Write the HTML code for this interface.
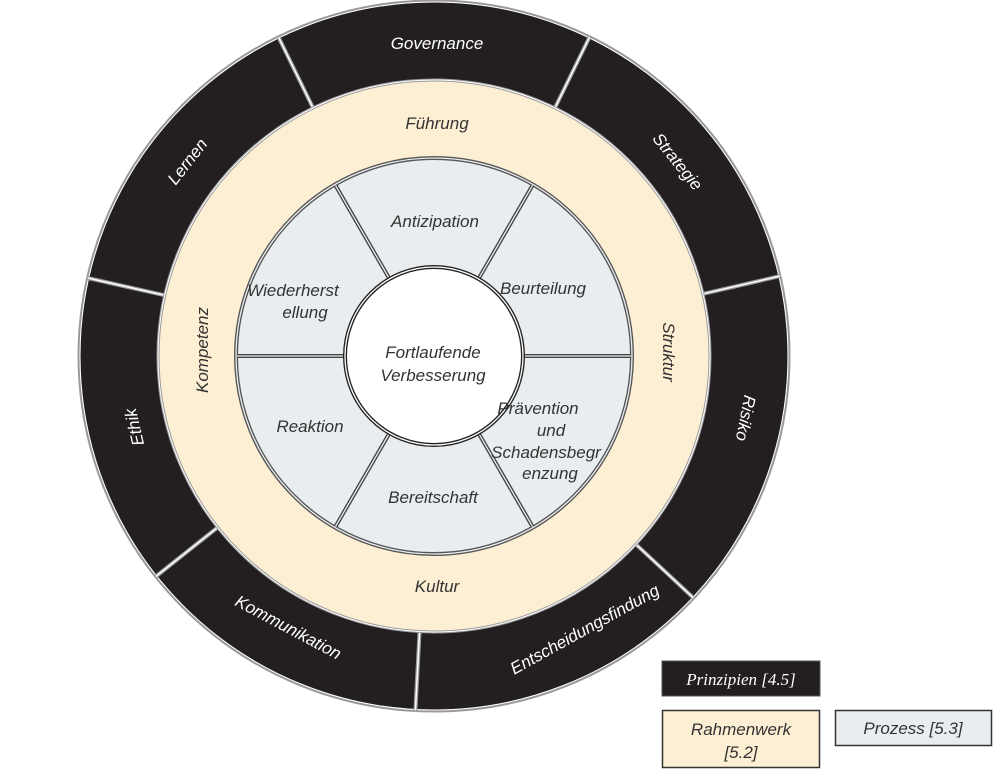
<!DOCTYPE html>
<html><head><meta charset="utf-8"><style>
html,body{margin:0;padding:0;background:#fff;width:1000px;height:776px;overflow:hidden}
svg{display:block}
.o{fill:#fff;font-family:"Liberation Sans",sans-serif;font-style:italic;font-size:17px;text-anchor:middle}
.c{fill:#333;font-family:"Liberation Sans",sans-serif;font-style:italic;font-size:17px;text-anchor:middle}
</style></head><body>
<svg width="1000" height="776" viewBox="0 0 1000 776" xmlns="http://www.w3.org/2000/svg">
<g>
<circle cx="434" cy="356" r="355" fill="#231f20" stroke="#999" stroke-width="3"/>
<circle cx="434" cy="356" r="354" fill="none" stroke="#fff" stroke-width="1"/>
<g stroke="#999" stroke-width="4">
<line x1="555.4" y1="107" x2="589.6" y2="36.9"/>
<line x1="703.9" y1="293.7" x2="779.9" y2="276.1"/>
<line x1="636.6" y1="544.9" x2="693.6" y2="598.1"/>
<line x1="419.5" y1="632.6" x2="415.4" y2="710.5"/>
<line x1="216.9" y1="528" x2="155.8" y2="576.5"/>
<line x1="163.8" y1="295.1" x2="87.7" y2="278"/>
<line x1="312.6" y1="107" x2="278.4" y2="36.9"/>
</g>
<g stroke="#fff" stroke-width="1.5">
<line x1="555.4" y1="107" x2="589.6" y2="36.9"/>
<line x1="703.9" y1="293.7" x2="779.9" y2="276.1"/>
<line x1="636.6" y1="544.9" x2="693.6" y2="598.1"/>
<line x1="419.5" y1="632.6" x2="415.4" y2="710.5"/>
<line x1="216.9" y1="528" x2="155.8" y2="576.5"/>
<line x1="163.8" y1="295.1" x2="87.7" y2="278"/>
<line x1="312.6" y1="107" x2="278.4" y2="36.9"/>
</g>
<circle cx="434" cy="356" r="277" fill="#fff" stroke="#999" stroke-width="1"/>
<circle cx="434" cy="356" r="275" fill="#fdefd3" stroke="#999" stroke-width="1"/>
<circle cx="434" cy="356" r="198" fill="#e9edef" stroke="#555" stroke-width="4"/>
<circle cx="434" cy="356" r="198" fill="none" stroke="#e9edef" stroke-width="1.3"/>
<g stroke="#444" stroke-width="4">
<line x1="478" y1="279.8" x2="532.5" y2="185.4"/>
<line x1="522" y1="356" x2="631" y2="356"/>
<line x1="478" y1="432.2" x2="532.5" y2="526.6"/>
<line x1="390" y1="432.2" x2="335.5" y2="526.6"/>
<line x1="346" y1="356" x2="237" y2="356"/>
<line x1="390" y1="279.8" x2="335.5" y2="185.4"/>
</g>
<g stroke="#e9edef" stroke-width="1.3">
<line x1="478" y1="279.8" x2="532.5" y2="185.4"/>
<line x1="522" y1="356" x2="631" y2="356"/>
<line x1="478" y1="432.2" x2="532.5" y2="526.6"/>
<line x1="390" y1="432.2" x2="335.5" y2="526.6"/>
<line x1="346" y1="356" x2="237" y2="356"/>
<line x1="390" y1="279.8" x2="335.5" y2="185.4"/>
</g>
<circle cx="434" cy="356" r="89" fill="#fff" stroke="#222" stroke-width="4"/>
<circle cx="434" cy="356" r="89" fill="none" stroke="#fff" stroke-width="1.3"/>
</g>
<text class="o" x="437" y="49">Governance</text>
<text class="o" transform="translate(677,162) rotate(51)" y="5">Strategie</text>
<text class="o" transform="translate(745,418) rotate(101)" y="5">Risiko</text>
<text class="o" transform="translate(585,630) rotate(-29)" y="5">Entscheidungsfindung</text>
<text class="o" transform="translate(288,628) rotate(28)" y="5">Kommunikation</text>
<text class="o" transform="translate(135,427) rotate(-103)" y="5">Ethik</text>
<text class="o" transform="translate(188,162) rotate(-52)" y="5">Lernen</text>
<text class="c" x="437" y="129">Führung</text>
<text class="c" transform="translate(668,352) rotate(90)" y="5">Struktur</text>
<text class="c" x="437" y="592">Kultur</text>
<text class="c" transform="translate(203,350) rotate(-90)" y="5">Kompetenz</text>
<text class="c" x="435" y="227">Antizipation</text>
<text class="c" x="543" y="294">Beurteilung</text>
<text class="c" x="538" y="414">Prävention</text>
<text class="c" x="551" y="436">und</text>
<text class="c" x="546" y="458">Schadensbegr</text>
<text class="c" x="550" y="479">enzung</text>
<text class="c" x="433" y="503">Bereitschaft</text>
<text class="c" x="310" y="432">Reaktion</text>
<text class="c" x="293" y="296">Wiederherst</text>
<text class="c" x="305" y="318">ellung</text>
<text class="c" x="433" y="358">Fortlaufende</text>
<text class="c" x="433" y="381">Verbesserung</text>
<rect x="662" y="661" width="158" height="35" fill="#231f20" stroke="#555" stroke-width="1"/>
<text x="741" y="685" fill="#fff" font-family="Liberation Serif,serif" font-style="italic" font-size="17" text-anchor="middle">Prinzipien [4.5]</text>
<rect x="662.5" y="710.5" width="157" height="57" fill="#fdefd3" stroke="#333" stroke-width="1.5"/>
<text class="c" x="741" y="735" font-size="16">Rahmenwerk</text>
<text class="c" x="741" y="758" font-size="16">[5.2]</text>
<rect x="835.5" y="710.5" width="156" height="35" fill="#e9edef" stroke="#333" stroke-width="1.5"/>
<text class="c" x="913" y="734" font-size="16">Prozess [5.3]</text>
</svg>
</body></html>
